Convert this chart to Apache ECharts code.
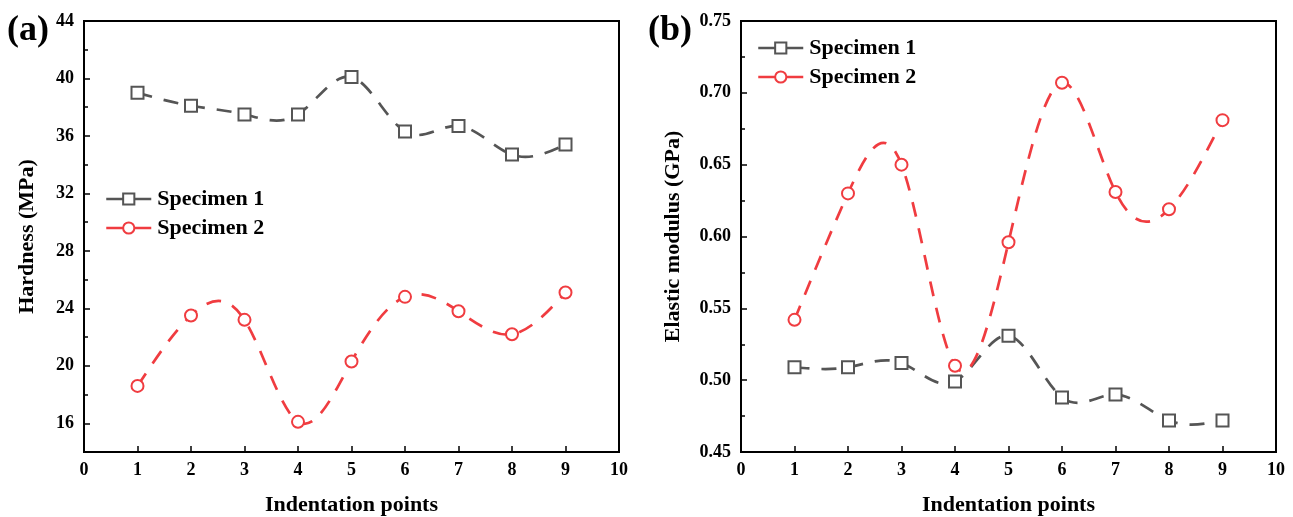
<!DOCTYPE html>
<html>
<head>
<meta charset="utf-8">
<script src="https://cdn.jsdelivr.net/npm/echarts@6/dist/echarts.min.js"></script>
<style>
html,body{margin:0;padding:0;background:#fff;}
#main{width:1293px;height:517px;}
</style>
</head>
<body>
<div id="main"></div>
<script>
var xPoints = [1, 2, 3, 4, 5, 6, 7, 8, 9];
var hardness1 = [39.0, 38.1, 37.5, 37.5, 40.1, 36.3, 36.7, 34.7, 35.4];
var hardness2 = [18.6, 23.5, 23.2, 16.1, 20.3, 24.8, 23.8, 22.2, 25.1];
var modulus1 = [0.509, 0.509, 0.512, 0.499, 0.531, 0.488, 0.490, 0.472, 0.472];
var modulus2 = [0.542, 0.630, 0.650, 0.510, 0.596, 0.707, 0.631, 0.619, 0.681];
var hardnessTicks = [16, 20, 24, 28, 32, 36, 40, 44];
var seriesNames = ['Specimen 1', 'Specimen 2'];

var GRAY = '#555555', RED = '#f03c40';
var FONT = 'Liberation Serif';

function pairs(ys) { return xPoints.map(function (x, i) { return [x, ys[i]]; }); }

// Natural cubic spline through pixel coords, expressed as bezier segments
function splinePath(P) {
  var n = P.length - 1, h = [], i;
  for (i = 0; i < n; i++) h.push(P[i + 1][0] - P[i][0]);
  var a = [], b = [], c = [], d = [];
  for (i = 0; i <= n; i++) {
    if (i === 0 || i === n) { a.push(0); b.push(1); c.push(0); d.push(0); }
    else {
      a.push(h[i - 1]); b.push(2 * (h[i - 1] + h[i])); c.push(h[i]);
      d.push(6 * ((P[i + 1][1] - P[i][1]) / h[i] - (P[i][1] - P[i - 1][1]) / h[i - 1]));
    }
  }
  for (i = 1; i <= n; i++) {
    var w = a[i] / b[i - 1];
    b[i] -= w * c[i - 1]; d[i] -= w * d[i - 1];
  }
  var M = new Array(n + 1);
  M[n] = d[n] / b[n];
  for (i = n - 1; i >= 0; i--) M[i] = (d[i] - c[i] * M[i + 1]) / b[i];
  var s = 'M' + P[0][0] + ' ' + P[0][1];
  for (i = 0; i < n; i++) {
    var hh = h[i], sl = (P[i + 1][1] - P[i][1]) / hh;
    var m0 = sl - hh * (2 * M[i] + M[i + 1]) / 6;
    var m1 = sl + hh * (M[i] + 2 * M[i + 1]) / 6;
    s += ' C' + (P[i][0] + hh / 3) + ' ' + (P[i][1] + m0 * hh / 3) + ' ' +
      (P[i + 1][0] - hh / 3) + ' ' + (P[i + 1][1] - m1 * hh / 3) + ' ' +
      P[i + 1][0] + ' ' + P[i + 1][1];
  }
  return s;
}

function curveSeries(ys, xi, yi, color) {
  var data = pairs(ys);
  return {
    type: 'custom', name: 'curve', xAxisIndex: xi, yAxisIndex: yi, data: data,
    silent: true, z: 2,
    renderItem: function (params, api) {
      if (params.dataIndex !== 0) return null;
      var pts = data.map(function (p) { return api.coord(p); });
      return {
        type: 'path',
        shape: { pathData: splinePath(pts) },
        style: { fill: 'none', stroke: color, lineWidth: 2.7, lineDash: [15, 12], lineCap: 'butt' }
      };
    }
  };
}

function xAxis(grid) {
  return {
    type: 'value', gridIndex: grid, min: 0, max: 10, interval: 1,
    name: 'Indentation points', nameLocation: 'middle', nameGap: 42,
    nameTextStyle: { fontFamily: FONT, fontWeight: 'bold', fontSize: 22, color: '#000' },
    axisLine: { show: true, lineStyle: { color: '#000', width: 2 } },
    axisTick: { show: true, inside: true, length: 6, lineStyle: { color: '#000', width: 1.5 } },
    axisLabel: { fontFamily: FONT, fontWeight: 'bold', fontSize: 18, color: '#000', margin: 9 },
    splitLine: { show: false }
  };
}

function markerSeries(name, ys, xi, yi, color, symbol) {
  return {
    type: 'line', name: name, xAxisIndex: xi, yAxisIndex: yi, data: pairs(ys),
    symbol: symbol, symbolSize: 12, showSymbol: true,
    lineStyle: { color: color, width: 2.5, opacity: 0 },
    itemStyle: { color: '#fff', borderColor: color, borderWidth: 2 },
    z: 3
  };
}

var legendBase = {
  orient: 'vertical', itemWidth: 45, itemHeight: 14, itemGap: 7,
  lineStyle: { type: 'solid', width: 2.5, opacity: 1 },
  textStyle: { fontFamily: FONT, fontWeight: 'bold', fontSize: 22, color: '#000', padding: [0, 0, 0, 1] },
  data: seriesNames, selectedMode: false
};

var gridBase = { width: 535, height: 431, top: 21, show: true, borderColor: '#000', borderWidth: 2,
  backgroundColor: 'transparent', containLabel: false, outerBoundsMode: 'none' };

var option = {
  animation: false,
  backgroundColor: '#fff',
  title: [
    { text: '(a)', left: 2, top: 8, textStyle: { fontFamily: FONT, fontWeight: 'bold', fontSize: 36, color: '#000' } },
    { text: '(b)', left: 643, top: 8, textStyle: { fontFamily: FONT, fontWeight: 'bold', fontSize: 36, color: '#000' } }
  ],
  grid: [
    Object.assign({}, gridBase, { left: 84 }),
    Object.assign({}, gridBase, { left: 741 })
  ],
  legend: [
    Object.assign({}, legendBase, { left: 100, top: 183 }),
    Object.assign({}, legendBase, { left: 752, top: 32 })
  ],
  xAxis: [xAxis(0), xAxis(1)],
  yAxis: [
    {
      type: 'value', gridIndex: 0, min: 14, max: 44, position: 'left',
      name: 'Hardness (MPa)', nameLocation: 'middle', nameGap: 46,
      nameTextStyle: { fontFamily: FONT, fontWeight: 'bold', fontSize: 22, color: '#000' },
      axisLine: { show: true, lineStyle: { color: '#000', width: 2 } },
      axisTick: { show: true, inside: true, length: 6, customValues: hardnessTicks, lineStyle: { color: '#000', width: 1.5 } },
      axisLabel: { fontFamily: FONT, fontWeight: 'bold', fontSize: 18, color: '#000', margin: 10, customValues: hardnessTicks },
      splitLine: { show: false }
    },
    {
      type: 'value', gridIndex: 0, min: 14, max: 44, interval: 2, position: 'left',
      axisLine: { show: false },
      axisTick: { show: true, inside: true, length: 4, lineStyle: { color: '#000', width: 1.5 } },
      axisLabel: { show: false },
      splitLine: { show: false }
    },
    {
      type: 'value', gridIndex: 1, min: 0.45, max: 0.75, interval: 0.05, position: 'left',
      name: 'Elastic modulus (GPa)', nameLocation: 'middle', nameGap: 57,
      nameTextStyle: { fontFamily: FONT, fontWeight: 'bold', fontSize: 22, color: '#000' },
      axisLine: { show: true, lineStyle: { color: '#000', width: 2 } },
      axisTick: { show: true, inside: true, length: 6, lineStyle: { color: '#000', width: 1.5 } },
      minorTick: { show: true, splitNumber: 2, length: 4, lineStyle: { color: '#000', width: 1.5 } },
      axisLabel: { fontFamily: FONT, fontWeight: 'bold', fontSize: 18, color: '#000', margin: 10,
        formatter: function (v) { return v.toFixed(2); } },
      splitLine: { show: false }
    }
  ],
  series: [
    curveSeries(hardness1, 0, 0, GRAY),
    curveSeries(hardness2, 0, 0, RED),
    curveSeries(modulus1, 1, 2, GRAY),
    curveSeries(modulus2, 1, 2, RED),
    markerSeries(seriesNames[0], hardness1, 0, 0, GRAY, 'rect'),
    markerSeries(seriesNames[1], hardness2, 0, 0, RED, 'circle'),
    markerSeries(seriesNames[0], modulus1, 1, 2, GRAY, 'rect'),
    markerSeries(seriesNames[1], modulus2, 1, 2, RED, 'circle')
  ]
};

var chart = echarts.init(document.getElementById('main'), null, { renderer: 'canvas' });
chart.setOption(option);
</script>
</body>
</html>
